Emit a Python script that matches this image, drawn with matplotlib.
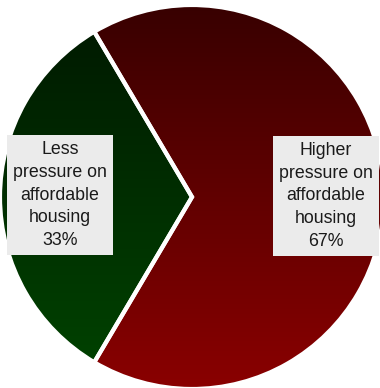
import numpy as np
import matplotlib
matplotlib.use('Agg')
import matplotlib.pyplot as plt
from matplotlib.colors import LinearSegmentedColormap

plt.rcParams['font.family'] = ['Liberation Sans', 'DejaVu Sans']

categories = ['Higher\npressure on\naffordable\nhousing', 'Less\npressure on\naffordable\nhousing']
values = [67, 33]
# top / bottom colours of each wedge's vertical gradient
grad_colors = [('#380000', '#8a0000'), ('#001800', '#004400')]

W, H = 380, 388
cx, cy, r = 192, H - 197, 192

fig = plt.figure(figsize=(W / 100, H / 100), dpi=100)
ax = fig.add_axes([0, 0, 1, 1])

start = -values[0] / 100 * 360 / 2
wedges, _ = ax.pie(values, startangle=start, radius=r, center=(cx, cy),
                   counterclock=True, frame=True,
                   wedgeprops=dict(edgecolor='white', linewidth=3))

grad = np.linspace(1, 0, 256).reshape(-1, 1)
for w, (top, bot) in zip(wedges, grad_colors):
    cmap = LinearSegmentedColormap.from_list('g', [bot, top])
    im = ax.imshow(grad, cmap=cmap, extent=(cx - r, cx + r, cy - r, cy + r),
                   origin='upper', aspect='auto', zorder=1, vmin=0, vmax=1)
    im.set_clip_path(w)
    w.set_facecolor('none')
    w.set_zorder(2)

ax.set_xlim(0, W)
ax.set_ylim(0, H)
ax.axis('off')

box = dict(boxstyle='square,pad=0.35', facecolor='#ebebeb', edgecolor='none')
labels = [f'{c}\n{v}%' for c, v in zip(categories, values)]
ax.text(326, H - 196, labels[0], ha='center', va='center', fontsize=12.8,
        linespacing=1.45, color='#1a1a1a', bbox=box, zorder=5)
ax.text(60, H - 195, labels[1], ha='center', va='center', fontsize=12.8,
        linespacing=1.45, color='#1a1a1a', bbox=box, zorder=5)

fig.savefig('out.png', dpi=100)
